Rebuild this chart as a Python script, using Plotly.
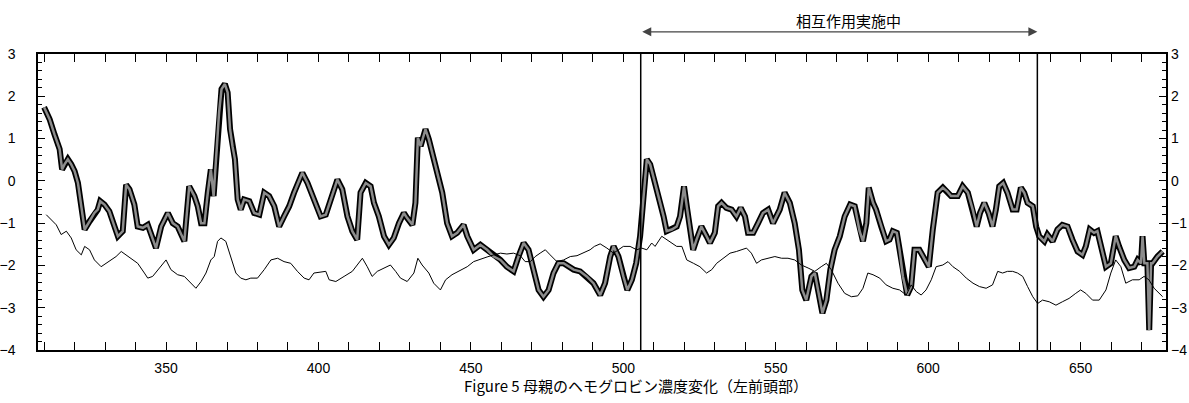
import plotly.graph_objects as go

# Bold trace (drawn as black outline with grey core)
bold_x = [310, 311.8, 313.4, 315.1, 315.9, 316.7, 317.8, 318.9, 320, 321.1, 322.2, 323.3, 324.9, 326.5,
          327.6, 328.4, 329.8, 331.4, 333.1, 334.2, 335.8, 336.9, 338, 339.6, 340.7, 342.4, 344, 345.1,
          346.7, 348.4, 350.6, 352.2, 353.8, 356, 357.6, 359.3, 360.4, 361.5, 362.6, 363.7, 364.7, 365.6,
          366.4, 367.4, 368.2, 369.3, 370.2, 371, 371.8, 372.6, 373.5, 374.5, 375.6, 377.3, 378.9, 380.6,
          382.2, 383.8, 385.5, 387.1, 388.7, 390.4, 392, 393.6, 394.7, 396.4, 398.5, 400.7, 402.4, 404,
          406.2, 407.8, 409.5, 411.1, 412.7, 413.8, 415.5, 417.1, 418.2, 419.8, 421.5, 423.1, 424.7, 426.4,
          428, 429.1, 430.8, 431.8, 432.6, 433.5, 435.1, 436.2, 437.3, 438.9, 440.6, 442.2, 443.8, 445.5,
          447.6, 448.8, 450.9, 453.1, 455.3, 457.5, 459.7, 461.8, 464, 465.6, 467.3, 468.9, 470.6, 472.2,
          473.8, 475.5, 477.1, 478.7, 480.4, 482, 483.7, 485.8, 488, 490.2, 492.4, 494, 495.7, 496.8,
          498.4, 500, 501.3, 502.8, 504.2, 505.5, 506.6, 507.7, 508.8, 509.9, 511.5, 513.2, 514.2, 515.9,
          517.5, 518.6, 519.9, 520.8, 521.8, 522.9, 524, 525.6, 527.3, 528.4, 530, 531.1, 532.2, 533.8,
          535.5, 537.1, 538.5, 539.9, 540.9, 542.6, 544.2, 545.8, 547.5, 549.1, 551.3, 552.9, 554.6, 556.2,
          557.6, 558.7, 560, 561.7, 562.8, 563.9, 565.3, 566.6, 567.9, 569.3, 571, 572.6, 574.4, 575.9,
          577.5, 578.6, 579.7, 580.5, 581.9, 582.9, 584.6, 586.2, 587.3, 588.4, 589.7, 590.6, 591.7, 593.1,
          594.4, 595.5, 597.1, 598.8, 600.2, 601.5, 603.1, 604.8, 606.1, 607.5, 609.7, 611.3, 613, 614.6,
          615.9, 617, 618.4, 619.8, 621.1, 622.2, 623.3, 624.6, 626, 627.7, 629, 630.4, 631.5, 632.6,
          634.3, 635.4, 636.4, 638.1, 639.1, 640.8, 642.4, 644, 645.7, 647.3, 649, 650.6, 651.7, 653,
          654.4, 655.5, 656.6, 658.3, 659.9, 661.5, 662.6, 664.3, 665.9, 667.6, 668.7, 669.8, 670.3, 670.9,
          671.9, 672.5, 673.1, 673.6, 675.2, 676.9]
bold_y = [1.74, 1.46, 1.10, 0.75, 0.27, 0.39, 0.51, 0.39, 0.23, -0.05, -0.60, -1.15, -0.96, -0.76,
          -0.68, -0.48, -0.56, -0.72, -1.08, -1.31, -1.19, -0.09, -0.20, -0.56, -1.08, -1.11, -1.04, -1.27,
          -1.59, -1.08, -0.76, -1.0, -1.08, -1.43, -0.13, -0.36, -0.60, -1.0, -1.0, -0.28, 0.27, -0.36,
          0.51, 1.62, 2.17, 2.29, 2.09, 1.22, 0.82, 0.51, -0.44, -0.68, -0.44, -0.48, -0.76, -0.80,
          -0.28, -0.36, -0.60, -1.08, -0.84, -0.60, -0.28, -0.01, 0.19, -0.05, -0.44, -0.84, -0.80, -0.44,
          0.03, -0.20, -0.84, -1.19, -1.39, -0.28, -0.05, -0.13, -0.52, -0.84, -1.31, -1.51, -1.35, -1.0,
          -0.76, -0.88, -1.04, -0.52, 1.02, 0.82, 1.22, 0.98, 0.67, 0.27, -0.28, -1.0, -1.31, -1.23,
          -1.04, -1.31, -1.63, -1.51, -1.63, -1.79, -1.87, -2.03, -2.14, -1.79, -1.47, -1.63, -2.10, -2.58,
          -2.74, -2.58, -2.18, -1.95, -1.95, -2.03, -2.10, -2.14, -2.26, -2.42, -2.70, -2.42, -1.79, -1.55,
          -1.79, -2.26, -2.58, -2.34, -1.95, -1.31, -0.44, 0.51, 0.39, 0.11, -0.36, -0.84, -1.19, -1.15,
          -1.08, -0.84, -0.13, -0.60, -1.15, -1.63, -1.39, -1.08, -1.31, -1.47, -1.23, -0.60, -0.52, -0.64,
          -0.68, -0.84, -0.64, -0.84, -1.23, -1.23, -1.0, -0.76, -0.68, -1.0, -0.68, -0.28, -0.52, -1.0,
          -1.63, -2.58, -2.82, -2.26, -2.18, -2.58, -3.13, -2.82, -2.10, -1.63, -1.31, -0.84, -0.56, -0.60,
          -1.19, -1.43, -1.0, -0.16, -0.52, -0.68, -1.08, -1.43, -1.39, -1.19, -1.23, -1.63, -2.26, -2.70,
          -2.50, -1.63, -1.63, -1.87, -2.03, -1.15, -0.28, -0.16, -0.24, -0.36, -0.36, -0.13, -0.28, -0.68,
          -1.08, -0.76, -0.52, -0.76, -1.08, -0.68, -0.13, -0.05, -0.28, -0.68, -0.68, -0.16, -0.28, -0.52,
          -0.60, -1.08, -1.31, -1.43, -1.27, -1.43, -1.15, -1.04, -1.08, -1.39, -1.67, -1.75, -1.55, -1.15,
          -1.23, -1.19, -1.55, -2.03, -1.95, -1.31, -1.55, -1.87, -2.06, -2.03, -1.87, -1.95, -1.31, -1.95,
          -1.95, -3.53, -1.95, -1.95, -1.79, -1.67]

# Fine trace
fine_x = [310.7, 312.4, 314, 315.6, 317.3, 318.9, 320.5, 322.2, 323.3, 324.9, 326.5, 328.7, 330.4, 332,
          333.6, 335.3, 336.9, 338.5, 340.7, 342.9, 344, 345.6, 347.3, 350, 351.6, 353.8, 356, 358.2,
          359.8, 361.5, 363.1, 364.7, 365.8, 366.9, 368, 369.6, 371.3, 372.9, 374.5, 376.2, 377.8, 380,
          382.2, 384.4, 386.6, 388.7, 390.9, 393.1, 395.3, 396.9, 398.5, 400.7, 402.4, 403.5, 405.7, 408.4,
          411.1, 412.7, 414.4, 416, 417.6, 419.3, 421.5, 423.6, 425.3, 426.9, 429.1, 431.3, 432.6, 434,
          436.2, 437.8, 440, 441.7, 443.8, 446, 448.8, 450.9, 453.1, 455.3, 457.5, 459.7, 461.8, 464,
          466.2, 467.8, 469.5, 471.1, 472.7, 474.4, 476, 478.2, 480.4, 482.6, 484.8, 487, 489.1, 490.5,
          492.4, 494.6, 496.8, 498.4, 500, 502.2, 504.4, 506, 507.7, 509.3, 510.4, 512.6, 514.2, 515.9,
          517.5, 519.2, 520.8, 523, 525.1, 527.3, 529, 530.6, 532.8, 535, 537.1, 538.8, 540.4, 542,
          543.7, 545.3, 547.5, 549.7, 551.9, 554, 556.2, 558.4, 560.6, 562.8, 564.9, 566.6, 568.2, 570.4,
          572.6, 574.8, 576.9, 578.6, 580.2, 581.9, 584.1, 586.2, 588.4, 590.6, 592.8, 594.4, 596.1, 597.7,
          599.3, 601, 602.6, 604.8, 606.5, 608.1, 610.3, 612.5, 614.7, 616.8, 619, 621.1, 622.8, 624.4,
          626, 627.7, 629.3, 631, 632.6, 634.3, 635.9, 637.5, 639.7, 641.9, 644, 646.2, 648.4, 650,
          651.7, 653.9, 656.1, 658.3, 659.9, 661.5, 663.2, 664.8, 667, 669.2, 670.8, 672.4, 674.1, 675.7,
          676.9]
fine_y = [-0.80, -0.92, -1.04, -1.27, -1.19, -1.35, -1.63, -1.75, -1.55, -1.63, -1.87, -2.03, -1.95, -1.87,
          -1.79, -1.67, -1.75, -1.83, -1.95, -2.18, -2.30, -2.26, -2.10, -1.87, -2.10, -2.22, -2.26, -2.42,
          -2.54, -2.38, -2.18, -1.87, -1.79, -1.43, -1.35, -1.43, -1.79, -2.18, -2.30, -2.34, -2.30, -2.30,
          -2.10, -1.87, -1.83, -1.91, -1.95, -2.14, -2.30, -2.34, -2.18, -2.16, -2.14, -2.34, -2.38, -2.26,
          -2.14, -1.99, -1.83, -2.03, -2.26, -2.14, -2.06, -1.99, -2.14, -2.30, -2.38, -2.18, -1.83, -1.99,
          -2.18, -2.42, -2.58, -2.34, -2.22, -2.14, -2.03, -1.91, -1.85, -1.80, -1.75, -1.71, -1.73, -1.71,
          -1.77, -1.91, -1.91, -1.79, -1.71, -1.63, -1.75, -1.91, -1.87, -1.79, -1.77, -1.70, -1.63, -1.55,
          -1.49, -1.59, -1.71, -1.63, -1.55, -1.55, -1.63, -1.59, -1.63, -1.47, -1.55, -1.31, -1.39, -1.47,
          -1.55, -1.55, -1.87, -1.95, -2.03, -2.18, -2.10, -1.95, -1.83, -1.71, -1.67, -1.63, -1.59, -1.71,
          -1.95, -1.87, -1.83, -1.79, -1.83, -1.83, -1.87, -1.99, -2.06, -2.14, -2.03, -1.95, -2.10, -2.42,
          -2.66, -2.74, -2.72, -2.54, -2.18, -2.22, -2.30, -2.46, -2.54, -2.58, -2.70, -2.46, -2.62, -2.70,
          -2.58, -2.34, -2.03, -1.99, -1.91, -2.03, -2.14, -2.30, -2.42, -2.50, -2.54, -2.46, -2.14, -2.18,
          -2.14, -2.14, -2.18, -2.26, -2.50, -2.74, -2.90, -2.82, -2.86, -2.94, -2.86, -2.78, -2.66, -2.58,
          -2.66, -2.82, -2.82, -2.58, -2.18, -1.87, -2.03, -2.42, -2.34, -2.34, -2.26, -2.34, -2.54, -2.66,
          -2.74]

# Interaction period boundaries
period_start = 505.7
period_end = 635.8
period_label = "相互作用実施中"
caption = "Figure 5 母親のヘモグロビン濃度変化（左前頭部）"

x_ticks = [350, 400, 450, 500, 550, 600, 650]
y_ticks = [-4, -3, -2, -1, 0, 1, 2, 3]
x_range = [308, 678]
y_range = [-4, 3]

NUM_FONT = dict(family="Liberation Sans Narrow, Liberation Sans, Arial", size=14, color="black")
CJK_FONT = dict(family="Noto Sans CJK JP", size=15, color="black")

fig = go.Figure()
fig.add_trace(go.Scatter(x=fine_x, y=fine_y, mode="lines", yaxis="y2",
                         line=dict(color="black", width=1), showlegend=False, hoverinfo="skip"))
fig.add_trace(go.Scatter(x=bold_x, y=bold_y, mode="lines",
                         line=dict(color="black", width=6), showlegend=False, hoverinfo="skip"))
fig.add_trace(go.Scatter(x=bold_x, y=bold_y, mode="lines",
                         line=dict(color="#8c8c8c", width=2.5), showlegend=False, hoverinfo="skip"))

for xv in (period_start, period_end):
    fig.add_shape(type="line", xref="x", yref="paper", x0=xv, x1=xv, y0=0, y1=1,
                  line=dict(color="black", width=1.5))

# Double-headed arrow marking the interaction period
fig.add_annotation(xref="x", yref="paper", x=period_end, y=1.075,
                   axref="x", ax=period_start, ayref="pixel", ay=0,
                   showarrow=True, arrowside="end+start", arrowhead=2, arrowsize=1.5,
                   arrowwidth=1.2, arrowcolor="#444", text="")
fig.add_annotation(xref="x", yref="paper", x=(period_start + period_end) / 2 + 3, y=1.112,
                   text=period_label, showarrow=False, font=CJK_FONT, yanchor="middle")
fig.add_annotation(xref="paper", yref="paper", x=0.53, y=-0.12, text=caption,
                   showarrow=False, font=CJK_FONT, yanchor="middle")

axis_common = dict(showgrid=False, zeroline=False, showline=True, linecolor="black", linewidth=1.5,
                   ticks="inside", tickcolor="black", tickwidth=1, tickfont=NUM_FONT,
                   automargin=False)

fig.update_layout(
    width=1189, height=403,
    margin=dict(l=38, r=23, t=54, b=53, autoexpand=False),
    paper_bgcolor="white", plot_bgcolor="white",
    xaxis=dict(range=x_range, tickmode="array", tickvals=x_ticks, ticklen=8,
               mirror="allticks", ticklabelstandoff=4,
               minor=dict(tick0=0, dtick=10, ticks="inside", ticklen=4, tickcolor="black"),
               **axis_common),
    yaxis=dict(range=y_range, tickmode="array", tickvals=y_ticks, ticklen=7,
               mirror="allticks", ticklabelstandoff=18,
               minor=dict(tick0=0, dtick=0.2, ticks="inside", ticklen=4, tickcolor="black"),
               **axis_common),
    yaxis2=dict(range=y_range, overlaying="y", side="right", anchor="x",
                tickmode="array", tickvals=y_ticks, showgrid=False, zeroline=False,
                showline=False, ticks="", ticklabelstandoff=4, tickfont=NUM_FONT,
                automargin=False),
)

fig.write_html("out.html")
